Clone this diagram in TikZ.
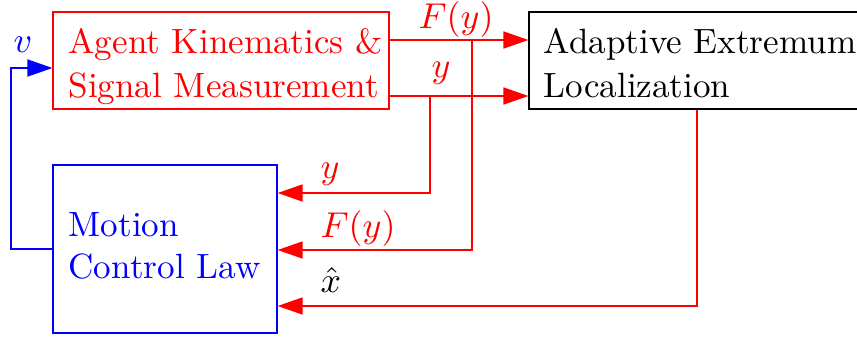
\documentclass[tikz,border=0pt]{standalone}
\usetikzlibrary{arrows.meta}
\begin{document}
\begin{tikzpicture}[x=0.3049pt,y=-0.3049pt,
  font=\fontsize{10.7}{13}\selectfont,
  box/.style={draw, line width=0.42pt, rectangle, inner sep=0pt},
  lab/.style={anchor=base west, inner sep=0pt},
  arr/.style={line width=0.42pt, -{Triangle[length=7.6pt,width=5.2pt]}}]
\clip (0,0) rectangle (857,337);
% boxes
\node[box, red, minimum width=102.4pt, minimum height=29.6pt] (agent) at (221,60.5) {};
\node[box, black, minimum width=102.4pt, minimum height=29.6pt] (ael) at (697,60.5) {};
\node[box, blue, minimum width=68.3pt, minimum height=51.2pt] (mcl) at (165,249) {};
% box texts
\node[lab, red] (t1) at (68,53) {Agent Kinematics \&};
\node[lab, red] (t2) at (68,97) {Signal Measurement};
\node[lab] (t3) at (543,53) {Adaptive Extremum};
\node[lab] (t4) at (543,97) {Localization};
\node[lab, blue] (t5) at (68,236) {Motion};
\node[lab, blue] (t6) at (68,278) {Control Law};
% branch points
\coordinate (bF) at (472,40);
\coordinate (bY) at (430,96);
\coordinate (cv) at (11,249);
% connectors
\draw[arr, red] (agent.east |- bF) -- (ael.west |- bF);
\draw[arr, red] (agent.east |- bY) -- (ael.west |- bY);
\draw[arr, red] (bY) |- (mcl.east |- 0,193);
\draw[arr, red] (bF) |- (mcl.east |- 0,250);
\draw[arr, red] (ael.south) |- (mcl.east |- 0,306);
\draw[arr, blue] (mcl.west) -- (cv) |- (agent.west |- 0,68);
% labels
\node[lab, red] (lF1) at (418,28) {$F(y)$};
\node[lab, red] (ly1) at (431,77) {$y$};
\node[lab, red] (ly2) at (320,178) {$y$};
\node[lab, red] (lF2) at (320,237) {$F(y)$};
\node[lab] (lx) at (320,292) {$\hat{x}$};
\node[lab, blue] (lv) at (13,52) {$v$};
\end{tikzpicture}
\end{document}
